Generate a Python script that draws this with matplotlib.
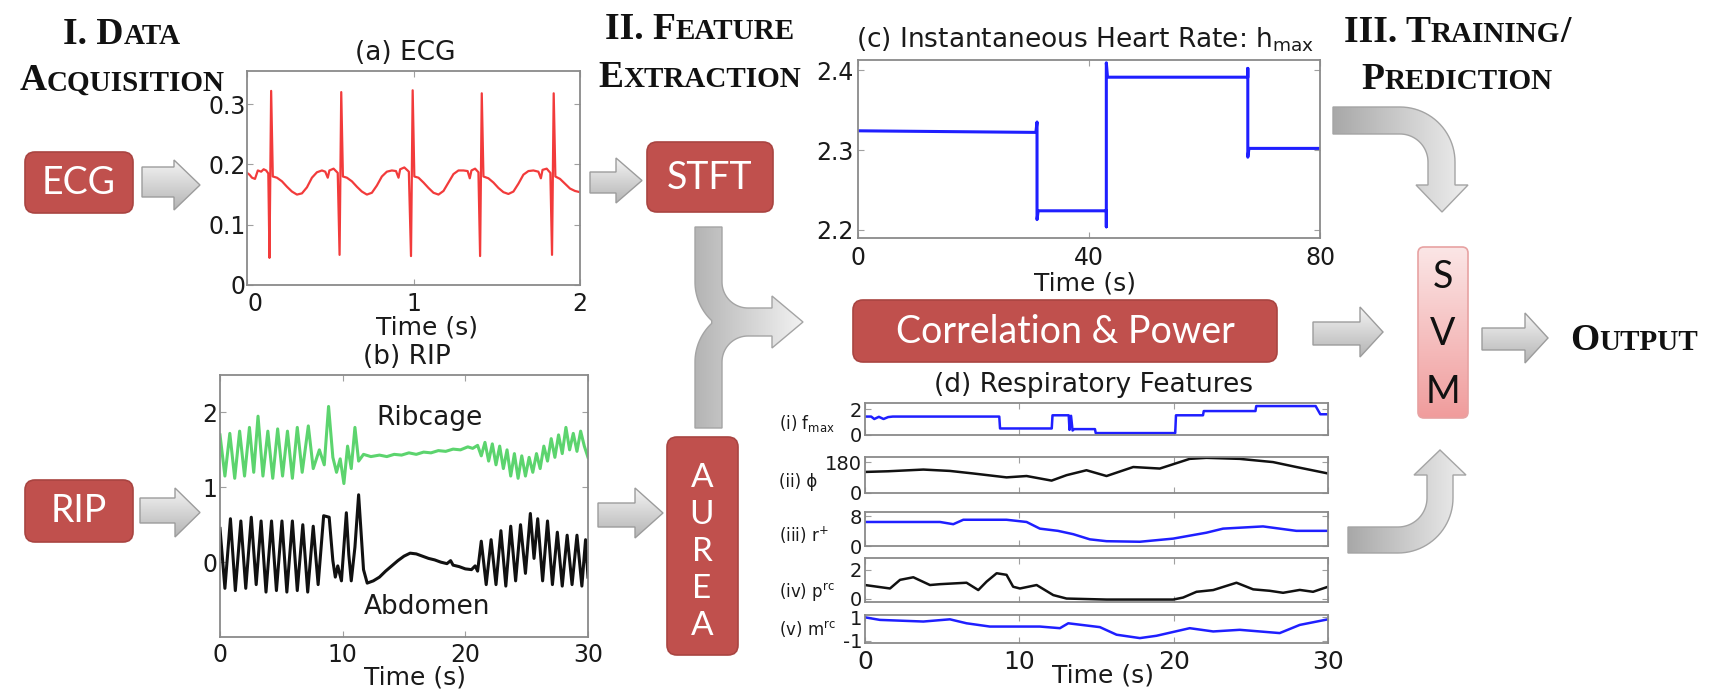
import numpy as np
import matplotlib
matplotlib.use('Agg')
import matplotlib.pyplot as plt
from matplotlib.patches import Polygon, FancyBboxPatch
from matplotlib.colors import LinearSegmentedColormap

# ---------------- data ----------------
ecg_t = [0.000, 0.015, 0.030, 0.048, 0.065, 0.085, 0.100, 0.115, 0.128, 0.135, 0.145, 0.155,
         0.180, 0.210, 0.240, 0.270, 0.300, 0.330, 0.360, 0.390, 0.420, 0.450, 0.470, 0.485,
         0.495, 0.520, 0.545, 0.556, 0.566, 0.576, 0.600, 0.630, 0.660, 0.690, 0.720, 0.750,
         0.780, 0.810, 0.840, 0.870, 0.895, 0.910, 0.920, 0.945, 0.972, 0.985, 0.995, 1.005,
         1.030, 1.060, 1.090, 1.120, 1.150, 1.180, 1.210, 1.240, 1.270, 1.300, 1.325, 1.338,
         1.348, 1.370, 1.390, 1.400, 1.410, 1.420, 1.450, 1.480, 1.510, 1.540, 1.570, 1.600,
         1.630, 1.660, 1.690, 1.720, 1.750, 1.765, 1.775, 1.800, 1.822, 1.832, 1.842, 1.852,
         1.880, 1.910, 1.940, 1.970, 2.000]
ecg_v = [0.186, 0.183, 0.178, 0.176, 0.190, 0.188, 0.192, 0.190, 0.185, 0.045, 0.322, 0.180,
         0.178, 0.172, 0.163, 0.155, 0.150, 0.152, 0.162, 0.178, 0.187, 0.190, 0.188, 0.178,
         0.190, 0.193, 0.186, 0.050, 0.320, 0.180, 0.178, 0.172, 0.163, 0.155, 0.150, 0.153,
         0.165, 0.180, 0.188, 0.190, 0.189, 0.178, 0.192, 0.195, 0.188, 0.048, 0.323, 0.180,
         0.178, 0.170, 0.161, 0.153, 0.150, 0.156, 0.170, 0.184, 0.190, 0.190, 0.189, 0.177,
         0.190, 0.193, 0.187, 0.048, 0.318, 0.180, 0.177, 0.170, 0.161, 0.154, 0.151, 0.155,
         0.168, 0.183, 0.189, 0.190, 0.188, 0.177, 0.191, 0.193, 0.186, 0.050, 0.318, 0.180,
         0.176, 0.168, 0.160, 0.156, 0.154]

rib_t = [0.0, 0.4, 0.8, 1.2, 1.6, 2.0, 2.4, 2.75, 3.1, 3.5, 3.9, 4.3, 4.7, 5.1, 5.5, 5.9, 6.3,
         6.7, 7.2, 7.6, 8.1, 8.5, 8.85, 9.2, 9.5, 9.8, 10.1, 10.4, 10.7, 11.0, 11.3, 11.7, 12.3,
         13.0, 13.6, 14.2, 14.8, 15.4, 16.0, 16.6, 17.2, 17.8, 18.4, 19.0, 19.6, 20.2, 20.6,
         21.0, 21.3, 21.6, 21.9, 22.2, 22.5, 22.8, 23.1, 23.4, 23.7,
         24.0, 24.3, 24.6, 24.9, 25.2, 25.5, 25.8, 26.1, 26.4, 26.7, 27.0, 27.3, 27.6, 27.9,
         28.2, 28.5, 28.8, 29.1, 29.4, 29.7, 30.0]
rib_v = [1.70, 1.15, 1.72, 1.12, 1.75, 1.15, 1.80, 1.20, 1.95, 1.15, 1.75, 1.12, 1.78, 1.15,
         1.75, 1.12, 1.80, 1.20, 1.82, 1.25, 1.50, 1.30, 2.08, 1.40, 1.20, 1.38, 1.05, 1.55,
         1.25, 1.80, 1.35, 1.44, 1.41, 1.43, 1.41, 1.44, 1.43, 1.46, 1.44, 1.47, 1.46, 1.49,
         1.48, 1.51, 1.50, 1.54, 1.52, 1.56, 1.42, 1.60, 1.35, 1.58,
         1.30, 1.55, 1.25, 1.50, 1.15, 1.45, 1.12, 1.42, 1.15, 1.40, 1.20, 1.45, 1.25, 1.55,
         1.35, 1.65, 1.40, 1.70, 1.45, 1.80, 1.50, 1.72, 1.48, 1.75, 1.55, 1.40]

abd_t = [0.0, 0.4, 0.85, 1.25, 1.7, 2.1, 2.55, 2.95, 3.35, 3.75, 4.2, 4.6, 5.05, 5.45, 5.9,
         6.3, 6.75, 7.15, 7.6, 8.0, 8.45, 8.9, 9.2, 9.4, 9.6, 9.9, 10.3, 10.5, 10.7, 11.0, 11.3,
         11.7, 12.0, 12.5, 13.0, 13.5, 14.0, 14.5, 15.0, 15.5, 16.0, 16.5, 17.0, 17.5, 18.0,
         18.5, 18.8, 19.0, 19.5, 20.0, 20.5, 20.8, 21.0, 21.3, 21.7,
         22.1, 22.5, 22.9, 23.3, 23.7, 24.1, 24.5, 24.9, 25.3, 25.6, 25.9, 26.3, 26.7, 27.1,
         27.5, 27.9, 28.3, 28.7, 29.1, 29.5, 29.8, 30.0]
abd_v = [0.45, -0.35, 0.58, -0.38, 0.55, -0.35, 0.60, -0.30, 0.55, -0.40, 0.55, -0.38, 0.55,
         -0.40, 0.55, -0.38, 0.50, -0.40, 0.48, -0.30, 0.62, 0.60, 0.02, -0.20, -0.05, -0.25,
         0.66, 0.10, -0.25, 0.20, 0.90, -0.10, -0.28, -0.25, -0.20, -0.12, -0.05, 0.02, 0.08,
         0.12, 0.11, 0.08, 0.05, 0.03, 0.00, -0.02, 0.02, -0.04, -0.06, -0.09, -0.10, -0.05,
         -0.12, 0.28, -0.30, 0.30, -0.30, 0.42, -0.32, 0.48, -0.25, 0.50,
         -0.15, 0.65, 0.05, 0.58, -0.25, 0.55, -0.30, 0.40, -0.32, 0.36, -0.30, 0.36, -0.32,
         0.30, -0.20]

hr_t = [0, 30.8, 31.0, 31.0, 31.2, 43.0, 43.0, 43.0, 43.2, 67.5, 67.5, 67.5, 67.7, 80]
hr_v = [2.324, 2.322, 2.335, 2.213, 2.224, 2.224, 2.204, 2.409, 2.391, 2.391, 2.402, 2.291,
        2.302, 2.302]

fmax_t = [0, 0.4, 0.6, 0.9, 1.2, 1.5, 1.8, 8.7, 8.75, 12.1, 12.15, 13.2, 13.25, 13.35, 13.45,
          13.55, 14.9, 14.95, 20.1, 20.15, 21.9, 21.95, 25.3, 25.35, 29.2, 29.5, 30]
fmax_v = [1.44, 1.44, 1.25, 1.42, 1.25, 1.40, 1.44, 1.44, 0.51, 0.51, 1.54, 1.54, 0.40, 1.50,
          0.35, 0.46, 0.46, 0.15, 0.15, 1.54, 1.54, 1.87, 1.87, 2.26, 2.26, 1.62, 1.62]
phi_t = [0, 1.5, 3.78, 5.5, 7.01, 9.17, 10.47, 12.09, 13.06, 14.35, 15.65, 17.38, 19.10, 19.75,
         21.04, 22.12, 24.28, 26.44, 27.95, 30]
phi_v = [124, 128, 138, 130, 115, 92, 100, 73, 105, 134, 100, 153, 144, 163, 201, 207, 201,
         182, 153, 115]
rplus_t = [0, 4.86, 5.72, 6.37, 9.17, 10.47, 11.33, 12.5, 13.49, 14.57, 15.65, 17.81, 19.97,
           22.12, 23.2, 25.79, 27.95, 30]
rplus_v = [6.5, 6.5, 5.9, 7.1, 7.1, 6.5, 4.7, 4.1, 3.2, 1.8, 1.3, 1.15, 2.0, 3.6, 4.7, 5.3,
           4.1, 4.1]
prc_t = [0, 1.62, 2.27, 3.13, 4.21, 4.86, 6.58, 7.34, 7.88, 8.53, 9.17, 9.6, 10.04, 11.12,
         12.2, 13.06, 15.65, 19.97, 20.61, 21.48, 22.56, 24.07, 25.15, 26.22, 27.09, 28.17,
         29.03, 30]
prc_v = [0.94, 0.70, 1.30, 1.48, 0.94, 1.00, 1.10, 0.59, 1.18, 1.76, 1.65, 0.82, 0.70, 0.94,
         0.24, 0.00, -0.07, -0.07, 0.07, 0.47, 0.59, 1.10, 0.64, 0.54, 0.40, 0.60, 0.47, 0.82]
mrc_t = [0, 0.97, 3.78, 5.5, 6.58, 8.09, 11.33, 12.63, 13.17, 15.22, 16.3, 17.81, 18.89, 21.04,
         22.56, 24.28, 26.87, 28.17, 30]
mrc_v = [1.0, 0.78, 0.64, 0.83, 0.49, 0.21, 0.21, 0.07, 0.49, 0.16, -0.49, -0.78, -0.58, 0.07,
         -0.21, -0.07, -0.35, 0.35, 0.83]

ecg_xticks, ecg_yticks = [0, 1, 2], [0, 0.1, 0.2, 0.3]
ecg_yticklabels = ['0', '0.1', '0.2', '0.3']
rip_xticks, rip_yticks = [0, 10, 20, 30], [0, 1, 2]
hr_xticks, hr_yticks = [0, 40, 80], [2.2, 2.3, 2.4]
feat_xticks = [0, 10, 20, 30]
feat_names = ['(i) f$_{\\mathrm{max}}$', '(ii) \u03d5', '(iii) r$^{+}$',
              '(iv) p$^{\\mathrm{rc}}$', '(v) m$^{\\mathrm{rc}}$']
feat_yticks = [[0, 2], [0, 180], [0, 8], [0, 2], [-1, 1]]
feat_ylims = [(0, 2.5), (0, 212), (0, 9.2), (-0.24, 2.82), (-1.2, 1.2)]

# ---------------- figure ----------------
W, H = 1723, 691
plt.rcParams['font.family'] = ['DejaVu Sans']
plt.rcParams['mathtext.fontset'] = 'dejavusans'
plt.rcParams['axes.unicode_minus'] = False
fig = plt.figure(figsize=(W / 100, H / 100), dpi=100)
fig.patch.set_facecolor('white')

SPINE = '#8a8a8a'


def add_ax(l, t, r, b):
    return fig.add_axes([l / W, 1 - b / H, (r - l) / W, (b - t) / H])


def style(ax, xpad=6, ypad=1.5, xsize=17, ysize=17):
    for s in ax.spines.values():
        s.set_color(SPINE)
        s.set_linewidth(1.3)
    ax.tick_params(direction='in', length=4, width=0.8, color='#a0a0a0',
                   top=True, right=True, labelcolor='#1a1a1a')
    ax.tick_params(axis='x', pad=xpad, labelsize=xsize)
    ax.tick_params(axis='y', pad=ypad, labelsize=ysize)


def place_xlabel(ax, text, px, py, l, t, r, b, size=18):
    ax.set_xlabel(text, fontsize=size, color='#1a1a1a')
    ax.xaxis.set_label_coords((px - l) / (r - l), -(py - b) / (b - t))
    ax.xaxis.label.set_va('center')


def place_title(ax, text, px, py, l, t, r, b, size=19):
    ax.set_title(text, fontsize=size, color='#1a1a1a', x=(px - l) / (r - l),
                 y=(b - py) / (b - t), va='center', pad=0)


# (a) ECG
L, T, R, B = 247, 71, 580, 285
ax = add_ax(L, T, R, B)
ax.plot(ecg_t, ecg_v, color='#f23b3b', lw=1.6)
ax.set_xlim(0, 2)
ax.set_ylim(0, 0.355)
ax.set_xticks(ecg_xticks)
ax.set_yticks(ecg_yticks)
ax.set_yticklabels(ecg_yticklabels)
style(ax, xpad=5, ypad=1)
ax.get_xticklabels()[0].set_ha('left')
place_xlabel(ax, 'Time (s)', 427, 327, L, T, R, B)
place_title(ax, '(a) ECG', 405, 53, L, T, R, B)

# (b) RIP
L, T, R, B = 220, 375, 588, 637
ax = add_ax(L, T, R, B)
ax.plot(rib_t, rib_v, color='#5cd46e', lw=2.2)
ax.plot(abd_t, abd_v, color='#111111', lw=2.2)
ax.set_xlim(0, 30)
ax.set_ylim(-1, 2.5)
ax.set_xticks(rip_xticks)
ax.set_yticks(rip_yticks)
style(ax, xpad=4, ypad=2)
ax.text(17.1, 1.93, 'Ribcage', fontsize=19, ha='center', va='center', color='#1a1a1a')
ax.text(16.9, -0.6, 'Abdomen', fontsize=19, ha='center', va='center', color='#1a1a1a')
place_xlabel(ax, 'Time (s)', 415, 678, L, T, R, B)
place_title(ax, '(b) RIP', 407, 357, L, T, R, B)

# (c) Heart rate
L, T, R, B = 858, 60, 1320, 238
ax = add_ax(L, T, R, B)
ax.plot(hr_t, hr_v, color='#1f1fff', lw=2.2)
ax.set_xlim(0, 80)
ax.set_ylim(2.19, 2.4125)
ax.set_xticks(hr_xticks)
ax.set_yticks(hr_yticks)
style(ax, xpad=6, ypad=3.5)
place_xlabel(ax, 'Time (s)', 1085, 284, L, T, R, B)
place_title(ax, '(c) Instantaneous Heart Rate: h$_{\\mathrm{max}}$', 1085, 40, L, T, R, B)

# (d) Respiratory features
feat_rows = [(403, 435), (457, 493), (512, 546), (558, 602), (615, 643)]
feat_t = [fmax_t, phi_t, rplus_t, prc_t, mrc_t]
feat_v = [fmax_v, phi_v, rplus_v, prc_v, mrc_v]
feat_c = ['#1f1fff', '#111111', '#1f1fff', '#111111', '#1f1fff']
feat_label_y = [423, 482, 535, 593, 630]
L, R = 865, 1328
for i, (t0, b0) in enumerate(feat_rows):
    ax = add_ax(L, t0, R, b0)
    ax.plot(feat_t[i], feat_v[i], color=feat_c[i], lw=1.8)
    ax.set_xlim(0, 30)
    ax.set_ylim(*feat_ylims[i])
    ax.set_xticks(feat_xticks)
    ax.set_yticks(feat_yticks[i])
    style(ax, xpad=5, ypad=2, xsize=18, ysize=14)
    if i < 4:
        ax.tick_params(axis='x', labelbottom=False)
    if i == 0:
        place_title(ax, '(d) Respiratory Features', 1094, 385, L, t0, R, b0)
    if i == 4:
        place_xlabel(ax, 'Time (s)', 1103, 676, L, t0, R, b0)

# ---------------- diagram overlay ----------------
ov = fig.add_axes([0, 0, 1, 1])
ov.set_xlim(0, W)
ov.set_ylim(H, 0)
ov.set_autoscale_on(False)
ov.axis('off')
ov.patch.set_alpha(0)


def grad_patch(patch, x0, x1, y0, y1, c0, c1, direction='v', z=3):
    patch.set_zorder(z + 0.1)
    ov.add_patch(patch)
    g = np.linspace(0, 1, 256)
    arr = g[:, None] if direction == 'v' else g[None, :]
    cmap = LinearSegmentedColormap.from_list('g', [c0, c1])
    im = ov.imshow(arr, cmap=cmap, extent=(x0, x1, y1, y0), aspect='auto',
                   origin='upper', interpolation='bilinear', zorder=z)
    im.set_clip_path(patch)


def arc(cx, cy, r, a0, a1, n=24):
    a = np.linspace(a0, a1, n)
    return list(zip(cx + r * np.cos(a), cy + r * np.sin(a)))


def harrow(x0, x1, xh, ys0, ys1, yh0, yh1):
    pts = [(x0, ys0), (xh, ys0), (xh, yh0), (x1, (yh0 + yh1) / 2), (xh, yh1), (xh, ys1), (x0, ys1)]
    p = Polygon(pts, closed=True, fc='none', ec='#9c9c9c', lw=1.0)
    grad_patch(p, x0, x1, yh0, yh1, '#f4f4f4', '#b4b4b4', 'v')


def red_box(x0, y0, x1, y1, r=10):
    p = FancyBboxPatch((x0, y0), x1 - x0, y1 - y0,
                       boxstyle='round,pad=0,rounding_size=%g' % r,
                       fc='#c0504d', ec='#a94441', lw=1.2, zorder=3)
    ov.add_patch(p)


BOXFONT = ['Lato', 'DejaVu Sans']

# input boxes
red_box(25, 152, 133, 213)
ov.text(79, 183, 'ECG', color='white', fontsize=27, family=BOXFONT, ha='center', va='center', zorder=5)
red_box(25, 480, 133, 542)
ov.text(79, 511, 'RIP', color='white', fontsize=27, family=BOXFONT, ha='center', va='center', zorder=5)
red_box(647, 142, 773, 212)
ov.text(710, 178, 'STFT', color='white', fontsize=27, family=BOXFONT, ha='center', va='center', zorder=5)
red_box(667, 437, 738, 655)
for ch, yy in zip('AUREA', [478, 515, 552, 589, 626]):
    ov.text(702, yy, ch, color='white', fontsize=24, family=BOXFONT, ha='center', va='center', zorder=5)
red_box(853, 300, 1277, 362)
ov.text(1065, 332, 'Correlation & Power', color='white', fontsize=27, family=BOXFONT,
        ha='center', va='center', zorder=5)

# SVM box
svm = FancyBboxPatch((1418, 247), 50, 171, boxstyle='round,pad=0,rounding_size=6',
                     fc='none', ec='#e7a2a2', lw=1.2)
grad_patch(svm, 1418, 1468, 247, 418, '#fbe6e6', '#f09c9c', 'v')
for ch, yy in zip('SVM', [277, 334, 392]):
    ov.text(1443, yy, ch, color='#111111', fontsize=27, family=BOXFONT, ha='center', va='center', zorder=5)

# straight arrows
harrow(142, 200, 174, 167, 197, 160, 210)
harrow(140, 200, 175, 498, 523, 488, 537)
harrow(590, 642, 616, 172, 193, 158, 203)
harrow(598, 663, 635, 503, 527, 488, 538)
harrow(1313, 1383, 1360, 322, 345, 307, 357)
harrow(1482, 1548, 1525, 328, 350, 313, 363)

# merging arrow (STFT + AUREA -> Correlation)
ang = np.arccos(-36.3 / 53.0)
pts = ([(695, 227), (722, 227), (722, 282)] + arc(748, 282, 26, np.pi, np.pi / 2) +
       [(772, 308), (772, 296), (803, 322), (772, 348), (772, 336)] +
       arc(748, 362, 26, -np.pi / 2, -np.pi) + [(722, 428), (695, 428), (695, 362)] +
       arc(748, 362, 53, -np.pi, -ang) + arc(748, 282, 53, ang, np.pi) + [(695, 282)])
p = Polygon(pts, closed=True, fc='none', ec='#a4a4a4', lw=1.0)
grad_patch(p, 695, 803, 227, 428, '#b4b4b4', '#f2f2f2', 'h')

# HR -> SVM curved arrow
pts = ([(1333, 107), (1400, 107)] + arc(1400, 162, 55, -np.pi / 2, 0) +
       [(1455, 185), (1468, 185), (1442, 212), (1416, 185), (1428, 185), (1428, 162)] +
       arc(1400, 162, 28, 0, -np.pi / 2) + [(1333, 134)])
p = Polygon(pts, closed=True, fc='none', ec='#a4a4a4', lw=1.0)
grad_patch(p, 1333, 1468, 107, 212, '#a8a8a8', '#eeeeee', 'h')

# features -> SVM curved arrow
pts = ([(1348, 553), (1398, 553)] + arc(1398, 498, 55, np.pi / 2, 0) +
       [(1453, 475), (1466, 475), (1440, 450), (1414, 475), (1427, 475), (1427, 498)] +
       arc(1398, 498, 29, 0, np.pi / 2) + [(1348, 527)])
p = Polygon(pts, closed=True, fc='none', ec='#a4a4a4', lw=1.0)
grad_patch(p, 1348, 1466, 450, 553, '#a8a8a8', '#eeeeee', 'h')

# feature names
for name, yy in zip(feat_names, feat_label_y):
    ov.text(779, yy, name, fontsize=12, ha='left', va='center', color='#1a1a1a', zorder=5)

# small-caps headers
renderer = fig.canvas.get_renderer()


def smallcaps(cx, cy, parts, big=27, small=21):
    texts = []
    for s, isbig in parts:
        t = ov.text(0, 0, s, fontsize=big if isbig else small,
                    family=['Liberation Serif', 'DejaVu Serif'], weight='bold',
                    ha='left', va='baseline', color='#111111', zorder=6)
        texts.append(t)
    widths = [t.get_window_extent(renderer).width for t in texts]
    x = cx - sum(widths) / 2
    base = cy + 0.33 * big * 100 / 72
    for t, w in zip(texts, widths):
        t.set_position((x, base))
        x += w


smallcaps(122, 32, [('I. D', True), ('ATA', False)])
smallcaps(122, 78, [('A', True), ('CQUISITION', False)])
smallcaps(700, 27, [('II. F', True), ('EATURE', False)])
smallcaps(700, 75, [('E', True), ('XTRACTION', False)])
smallcaps(1457, 30, [('III. T', True), ('RAINING', False), ('/', True)])
smallcaps(1457, 77, [('P', True), ('REDICTION', False)])
smallcaps(1634, 338, [('O', True), ('UTPUT', False)])

ov.set_xlim(0, W)
ov.set_ylim(H, 0)

fig.savefig('out.png', dpi=100, facecolor='white')
